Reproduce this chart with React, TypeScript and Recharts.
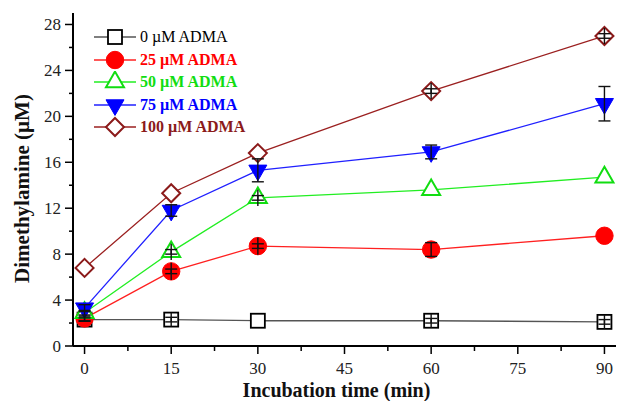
import React from "react";
import { ErrorBar, Label, Legend, Line, LineChart, XAxis, YAxis } from "recharts";

const times = [0, 15, 30, 60, 90];
const adma0 = [2.3, 2.3, 2.2, 2.2, 2.1];
const adma25 = [2.4, 6.5, 8.7, 8.4, 9.6];
const adma50 = [2.9, 8.2, 12.9, 13.6, 14.7];
const adma75 = [3.3, 11.8, 15.3, 16.9, 21.1];
const adma100 = [6.8, 13.3, 16.8, 22.2, 27.0];

// capped error bars (SD)
const err0 = [0.15, 0.2, null, 0.2, 0.2];
const err25 = [0.2, 0.2, 0.2, 0.6, null];
const err50 = [0.2, 0.2, 0.2, null, null];
const err75 = [0.3, 0.5, 1.0, 0.6, 1.5];
const err100 = [null, null, null, 0.2, 0.2];

// vertical stems seen through the markers
const stem0 = [null, 0.6, null, 0.6, 0.6];
const stem25 = [null, 0.75, 0.75, null, null];
const stem50 = [null, 0.7, 0.7, null, null];
const stem75 = [null, null, null, null, null];
const stem100 = [null, null, null, 0.7, 0.7];

const xTicks = [0, 7.5, 15, 22.5, 30, 37.5, 45, 52.5, 60, 67.5, 75, 82.5, 90];
const yTicks = [0, 2, 4, 6, 8, 10, 12, 14, 16, 18, 20, 22, 24, 26, 28];

const series = [
  { key: "a0", err: "e0", stem: "s0", name: "0 µM ADMA", shape: "square", line: "#555", color: "#000", bold: false },
  { key: "a25", err: "e25", stem: "s25", name: "25 µM ADMA", shape: "circle", line: "#ff2020", color: "#ff0000", bold: true },
  { key: "a50", err: "e50", stem: "s50", name: "50 µM ADMA", shape: "triangle", line: "#22ee22", color: "#11dd11", bold: true },
  { key: "a75", err: "e75", stem: "s75", name: "75 µM ADMA", shape: "triangleDown", line: "#2020ff", color: "#0000ff", bold: true },
  { key: "a100", err: "e100", stem: "s100", name: "100 µM ADMA", shape: "diamond", line: "#9b2020", color: "#8b1a1a", bold: true },
];

const data = times.map((t, i) => ({
  t,
  a0: adma0[i],
  a25: adma25[i],
  a50: adma50[i],
  a75: adma75[i],
  a100: adma100[i],
  e0: err0[i],
  e25: err25[i],
  e50: err50[i],
  e75: err75[i],
  e100: err100[i],
  s0: stem0[i],
  s25: stem25[i],
  s50: stem50[i],
  s75: stem75[i],
  s100: stem100[i],
}));

const FONT = "'Liberation Serif', 'Times New Roman', serif";

function Marker({ cx, cy, shape, color }: { cx: number; cy: number; shape: string; color: string }) {
  if (shape === "square") {
    return <rect x={cx - 7} y={cy - 7} width={14} height={14} fill="#fff" stroke={color} strokeWidth={1.8} />;
  }
  if (shape === "circle") {
    return <circle cx={cx} cy={cy} r={8.7} fill={color} stroke={color} />;
  }
  if (shape === "triangle" || shape === "triangleDown") {
    const s = 18;
    const h = s * 0.866;
    const dir = shape === "triangle" ? 1 : -1;
    const pts = [
      [cx, cy - (dir * 2 * h) / 3],
      [cx - s / 2, cy + (dir * h) / 3],
      [cx + s / 2, cy + (dir * h) / 3],
    ];
    const filled = shape === "triangleDown";
    return (
      <polygon
        points={pts.map((p) => p.join(",")).join(" ")}
        fill={filled ? color : "#fff"}
        stroke={color}
        strokeWidth={filled ? 1 : 2}
      />
    );
  }
  return (
    <polygon
      points={`${cx},${cy - 9} ${cx + 9},${cy} ${cx},${cy + 9} ${cx - 9},${cy}`}
      fill="#fff"
      stroke={color}
      strokeWidth={2}
    />
  );
}

function BottomTick(props: any) {
  const { x, y, payload } = props;
  const major = payload.value % 15 === 0;
  return (
    <g>
      <line x1={x} x2={x} y1={y} y2={y + (major ? 8 : 5)} stroke="#000" strokeWidth={1.5} />
      {major && (
        <text x={x} y={y + 28} textAnchor="middle" fontSize={17} fontFamily={FONT} fill="#222">
          {payload.value}
        </text>
      )}
    </g>
  );
}

function TopTick(props: any) {
  const { x, y, payload } = props;
  const major = payload.value % 15 === 0;
  return <line x1={x} x2={x} y1={y} y2={y + (major ? 8 : 5)} stroke="#000" strokeWidth={1.5} />;
}

function LeftTick(props: any) {
  const { x, y, payload } = props;
  const major = payload.value % 4 === 0;
  return (
    <g>
      <line x1={x} x2={x - (major ? 8 : 4)} y1={y} y2={y} stroke="#000" strokeWidth={1.5} />
      {major && (
        <text x={x - 12} y={y} dy="0.35em" textAnchor="end" fontSize={17} fontFamily={FONT} fill="#222">
          {payload.value}
        </text>
      )}
    </g>
  );
}

function RightTick(props: any) {
  const { x, y, payload } = props;
  const major = payload.value % 4 === 0;
  return <line x1={x} x2={x - (major ? 8 : 5)} y1={y} y2={y} stroke="#000" strokeWidth={1.5} />;
}

function XTitle(props: any) {
  const { viewBox } = props;
  return (
    <text
      x={viewBox.x + viewBox.width / 2 - 8}
      y={viewBox.y + 51}
      textAnchor="middle"
      fontSize={20}
      fontWeight="bold"
      fontFamily={FONT}
      fill="#111"
    >
      Incubation time (min)
    </text>
  );
}

function YTitle(props: any) {
  const { viewBox } = props;
  const cx = viewBox.x + 22;
  const cy = viewBox.y + viewBox.height / 2 + 9;
  return (
    <text
      x={cx}
      y={cy}
      dy="0.35em"
      transform={`rotate(-90, ${cx}, ${cy})`}
      textAnchor="middle"
      fontSize={21}
      fontWeight="bold"
      fontFamily={FONT}
      fill="#111"
    >
      Dimethylamine (µM)
    </text>
  );
}

function LegendBox() {
  return (
    <div style={{ fontFamily: FONT, fontSize: 16 }}>
      {series.map((s) => (
        <div key={s.key} style={{ display: "flex", alignItems: "center", height: 22.5 }}>
          <svg width={42} height={22} style={{ display: "block" }}>
            <line x1={0} x2={42} y1={11} y2={11} stroke={s.line} strokeWidth={1.3} />
            <Marker cx={21} cy={11} shape={s.shape} color={s.color} />
          </svg>
          <span
            style={{
              marginLeft: 4,
              color: s.color,
              fontWeight: s.bold ? "bold" : "normal",
              whiteSpace: "nowrap",
              lineHeight: "22px",
            }}
          >
            {s.name}
          </span>
        </div>
      ))}
    </div>
  );
}

export default function App() {
  return (
    <div style={{ position: "absolute", left: 0, top: 0, background: "#fff" }}>
      <LineChart width={618} height={401} data={data} margin={{ top: 13, right: 2, bottom: 0, left: 0 }}>
        <XAxis
          dataKey="t"
          type="number"
          domain={[-2, 92]}
          ticks={xTicks}
          interval={0}
          allowDataOverflow
          height={55}
          tickSize={0}
          tickMargin={0}
          tickLine={false}
          tick={(p: any) => <BottomTick {...p} />}
          axisLine={{ stroke: "#000", strokeWidth: 2 }}
        >
          <Label content={XTitle} />
        </XAxis>
        <XAxis
          xAxisId="top"
          orientation="top"
          type="number"
          domain={[-2, 92]}
          ticks={xTicks}
          interval={0}
          allowDataOverflow
          height={0}
          tickSize={0}
          tickMargin={0}
          tickLine={false}
          tick={(p: any) => <TopTick {...p} />}
          axisLine={{ stroke: "#000", strokeWidth: 2 }}
        />
        <YAxis
          type="number"
          domain={[0, 29]}
          ticks={yTicks}
          interval={0}
          allowDataOverflow
          width={73}
          tickSize={0}
          tickMargin={0}
          tickLine={false}
          tick={(p: any) => <LeftTick {...p} />}
          axisLine={{ stroke: "#000", strokeWidth: 2 }}
        >
          <Label content={YTitle} />
        </YAxis>
        <YAxis
          yAxisId="right"
          orientation="right"
          type="number"
          domain={[0, 29]}
          ticks={yTicks}
          interval={0}
          allowDataOverflow
          width={0}
          tickSize={0}
          tickMargin={0}
          tickLine={false}
          tick={(p: any) => <RightTick {...p} />}
          axisLine={{ stroke: "#000", strokeWidth: 2 }}
        />
        {series.map((s) => (
          <Line
            key={s.key}
            dataKey={s.key}
            name={s.name}
            stroke={s.line}
            strokeWidth={1.3}
            isAnimationActive={false}
            activeDot={false}
            dot={(p: any) => <Marker key={`${s.key}-${p.index}`} cx={p.cx} cy={p.cy} shape={s.shape} color={s.color} />}
          />
        ))}
        {series.map((s) => (
          <Line
            key={`${s.key}-err`}
            dataKey={s.key}
            stroke="none"
            legendType="none"
            dot={false}
            activeDot={false}
            isAnimationActive={false}
          >
            <ErrorBar dataKey={s.stem} width={0} stroke="#111" strokeWidth={1.4} zIndex={900} />
            <ErrorBar dataKey={s.err} width={6} stroke="#111" strokeWidth={1.4} zIndex={900} />
          </Line>
        ))}
        <Legend
          layout="vertical"
          align="center"
          verticalAlign="middle"
          content={() => <LegendBox />}
          wrapperStyle={{ top: 26, left: 94, width: "auto", height: "auto" }}
        />
      </LineChart>
    </div>
  );
}
